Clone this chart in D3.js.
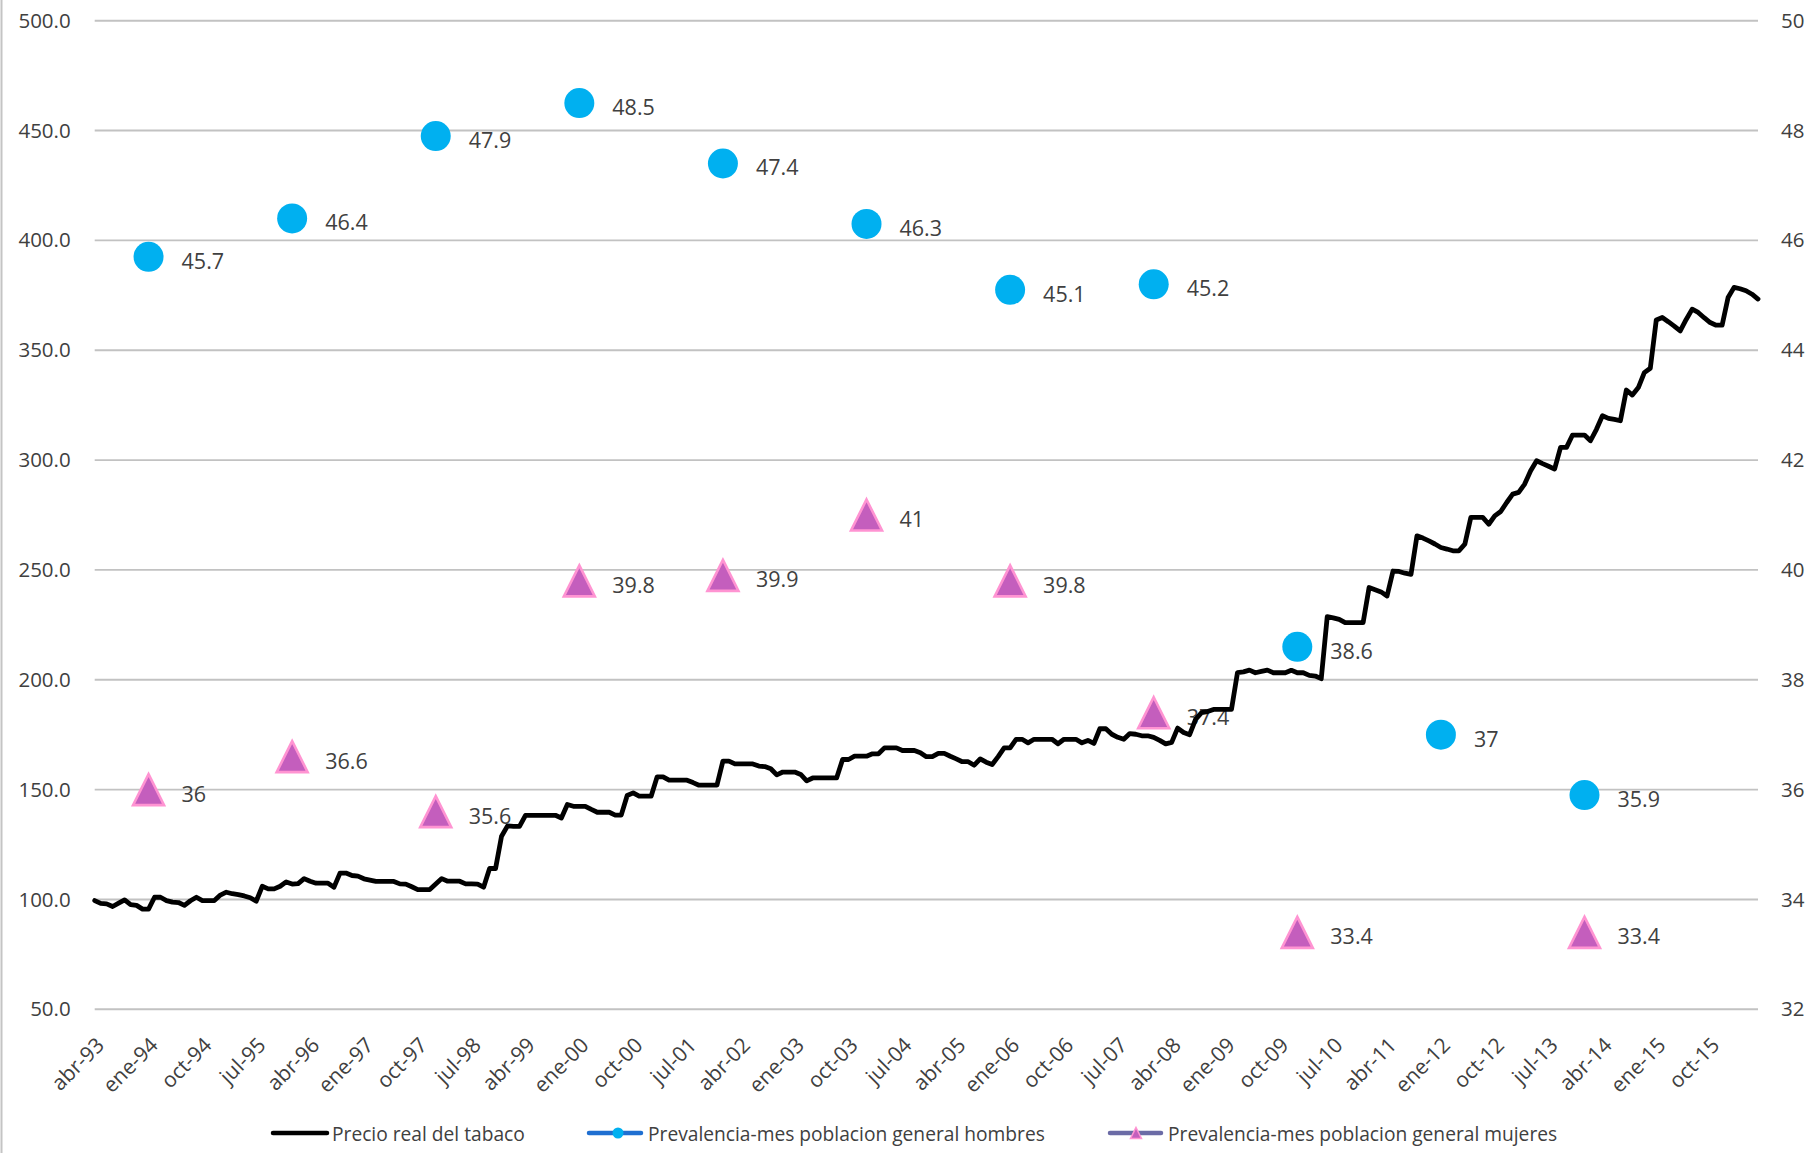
<!DOCTYPE html>
<html>
<head>
<meta charset="utf-8">
<script src="https://cdn.jsdelivr.net/npm/d3@7"></script>
<style>
body { margin: 0; background: #fff; }
svg { display: block; font-family: "Open Sans", sans-serif; }
</style>
</head>
<body>
<svg id="chart"></svg>
<script>
// precio real del tabaco, mensual desde abr-93 (indice 100)
var precio = [
  99.5, 98.2, 98.0, 96.8, 98.3, 99.8, 97.6, 97.3, 95.6, 95.6, 101.0, 101.0,
  99.5, 98.8, 98.6, 97.3, 99.4, 101.0, 99.5, 99.5, 99.5, 102.0, 103.3, 102.6,
  102.2, 101.6, 100.8, 99.2, 106.0, 104.8, 104.8, 106.0, 108.0, 107.0, 107.2, 109.5,
  108.3, 107.4, 107.4, 107.4, 105.6, 112.0, 112.0, 110.9, 110.6, 109.4, 108.8, 108.2,
  108.2, 108.2, 108.2, 107.1, 107.0, 105.8, 104.5, 104.5, 104.5, 107.0, 109.5, 108.3,
  108.3, 108.3, 107.1, 107.1, 107.0, 105.6, 114.1, 114.1, 128.8, 133.5, 133.3, 133.3,
  138.3, 138.3, 138.3, 138.3, 138.3, 138.3, 137.1, 143.2, 142.4, 142.4, 142.4, 141.0,
  139.7, 139.7, 139.7, 138.4, 138.4, 147.3, 148.5, 147.0, 147.0, 147.0, 155.8, 155.8,
  154.3, 154.3, 154.3, 154.3, 153.2, 152.0, 152.0, 152.0, 152.0, 163.0, 163.0, 161.7,
  161.7, 161.7, 161.7, 160.7, 160.5, 159.5, 156.7, 158.0, 158.0, 158.0, 156.9, 154.0,
  155.3, 155.3, 155.3, 155.3, 155.3, 163.7, 163.7, 165.2, 165.2, 165.2, 166.3, 166.3,
  169.0, 169.0, 169.0, 167.8, 167.8, 167.8, 166.8, 165.0, 165.0, 166.5, 166.5, 165.2,
  164.0, 162.7, 162.7, 161.1, 164.0, 162.5, 161.4, 165.0, 169.0, 169.0, 172.9, 172.9,
  171.3, 172.9, 172.9, 172.9, 172.9, 170.9, 172.9, 172.9, 172.9, 171.3, 172.4, 171.0,
  177.7, 177.7, 175.2, 173.8, 172.9, 175.5, 175.2, 174.5, 174.5, 173.8, 172.4, 170.8,
  171.5, 178.0, 176.0, 175.0, 182.0, 185.0, 185.5, 186.5, 186.5, 186.5, 186.5, 203.2,
  203.6, 204.4, 203.2, 203.8, 204.4, 203.2, 203.2, 203.2, 204.3, 203.2, 203.2, 202.0,
  201.7, 200.5, 228.7, 228.2, 227.5, 226.0, 226.0, 226.0, 226.0, 242.0, 241.0, 240.0,
  238.1, 249.5, 249.3, 248.5, 248.0, 265.5, 264.5, 263.2, 261.8, 260.2, 259.5, 258.7,
  258.7, 261.7, 273.9, 273.9, 273.9, 270.8, 274.6, 276.6, 280.7, 284.5, 285.3, 289.1,
  295.1, 299.7, 298.4, 297.2, 295.9, 305.8, 305.8, 311.4, 311.4, 311.4, 308.8, 314.0,
  320.2, 319.0, 318.5, 317.9, 331.9, 329.6, 333.0, 339.8, 341.8, 363.8, 364.9, 363.0,
  361.0, 358.8, 364.0, 368.7, 367.2, 364.8, 362.6, 361.4, 361.4, 374.0, 378.6, 378.0,
  377.1, 375.5, 373.3
];

var mesesNombre = ["ene", "feb", "mar", "abr", "may", "jun", "jul", "ago", "sep", "oct", "nov", "dic"];

// encuestas (prevalencia ultimo mes)
var fechasEncuesta = ["ene-94", "ene-96", "ene-98", "ene-00", "ene-02", "ene-04", "ene-06", "ene-08", "ene-10", "ene-12", "ene-14"];
var hombres = [45.7, 46.4, 47.9, 48.5, 47.4, 46.3, 45.1, 45.2, 38.6, 37, 35.9];
var mujeres = [36, 36.6, 35.6, 39.8, 39.9, 41, 39.8, 37.4, 33.4, null, 33.4];

var ticksIzq = [50, 100, 150, 200, 250, 300, 350, 400, 450, 500];
var ticksDer = [32, 34, 36, 38, 40, 42, 44, 46, 48, 50];
var saltoEtiquetas = 9;

var nombresLeyenda = ["Precio real del tabaco", "Prevalencia-mes poblacion general hombres", "Prevalencia-mes poblacion general mujeres"];

// categorias abr-93 ... (mensuales)
var categorias = precio.map(function(d, i) {
  var m = 3 + i;
  var anio = (93 + Math.floor(m / 12)) % 100;
  return mesesNombre[m % 12] + "-" + String(anio).padStart(2, "0");
});

var width = 1819, height = 1153;
var m = { izq: 94.7, der: 1758, arr: 20.7, aba: 1009.3 };
var gris = "#404040";

var svg = d3.select("#chart").attr("width", width).attr("height", height);
svg.append("rect").attr("width", width).attr("height", height).attr("fill", "#fff");

// borde izquierdo del area del grafico
svg.append("line").attr("x1", 1.5).attr("x2", 1.5).attr("y1", 0).attr("y2", height)
  .attr("stroke", "#c4c4c4").attr("stroke-width", 2);

var x = d3.scalePoint().domain(categorias).range([m.izq, m.der]);
var yIzq = d3.scaleLinear().domain([50, 500]).range([m.aba, m.arr]);
var yDer = d3.scaleLinear().domain([32, 50]).range([m.aba, m.arr]);

// lineas de la cuadricula
svg.append("g").selectAll("line").data(ticksIzq).join("line")
  .attr("x1", m.izq).attr("x2", m.der)
  .attr("y1", d => yIzq(d)).attr("y2", d => yIzq(d))
  .attr("stroke", "#c2c2c2").attr("stroke-width", 1.9);

// eje izquierdo
var ejeIzq = svg.append("g").attr("transform", "translate(" + (m.izq - 24) + ",0)")
  .call(d3.axisLeft(yIzq).tickValues(ticksIzq).tickFormat(d3.format(".1f")).tickSize(0).tickPadding(0));
ejeIzq.select(".domain").remove();
ejeIzq.selectAll("text").attr("font-family", "Open Sans").attr("font-size", 20.5).attr("fill", gris);

// eje derecho
var ejeDer = svg.append("g").attr("transform", "translate(" + (m.der + 23) + ",0)")
  .call(d3.axisRight(yDer).tickValues(ticksDer).tickSize(0).tickPadding(0));
ejeDer.select(".domain").remove();
ejeDer.selectAll("text").attr("font-family", "Open Sans").attr("font-size", 20.5).attr("fill", gris);

// eje x (cada 9 meses)
var ejeX = svg.append("g").attr("transform", "translate(0," + m.aba + ")")
  .call(d3.axisBottom(x).tickValues(categorias.filter((d, i) => i % saltoEtiquetas === 0)).tickSize(0));
ejeX.select(".domain").remove();
ejeX.selectAll("text")
  .attr("font-family", "Open Sans").attr("font-size", 21).attr("fill", gris)
  .attr("text-anchor", "end")
  .attr("x", 0).attr("y", 0).attr("dy", "0.35em")
  .attr("transform", "translate(5,32) rotate(-45)");

// marcadores
var ptsH = fechasEncuesta.map((f, i) => ({ fecha: f, v: hombres[i] })).filter(d => d.v != null);
var ptsM = fechasEncuesta.map((f, i) => ({ fecha: f, v: mujeres[i] })).filter(d => d.v != null);

svg.append("g").selectAll("circle").data(ptsH).join("circle")
  .attr("cx", d => x(d.fecha)).attr("cy", d => yDer(d.v)).attr("r", 15)
  .attr("fill", "#00b0f0");

function triangulo(w, h) {
  return "M0," + (-h / 2) + "L" + (w / 2) + "," + (h / 2) + "L" + (-w / 2) + "," + (h / 2) + "Z";
}
svg.append("g").selectAll("path").data(ptsM).join("path")
  .attr("transform", d => "translate(" + x(d.fecha) + "," + yDer(d.v) + ")")
  .attr("d", triangulo(31, 31))
  .attr("fill", "#c45ebd").attr("stroke", "#ff94d2").attr("stroke-width", 2.6)
  .attr("stroke-linejoin", "miter");

// etiquetas de datos
svg.append("g").selectAll("text").data(ptsH.concat(ptsM)).join("text")
  .attr("x", d => x(d.fecha) + 33).attr("y", d => yDer(d.v) + 3.5)
  .attr("dominant-baseline", "central")
  .attr("font-size", 21.5).attr("fill", gris)
  .text(d => String(d.v));

// linea del precio
var linea = d3.line().x((d, i) => x(categorias[i])).y(d => yIzq(d));
svg.append("path").datum(precio)
  .attr("d", linea).attr("fill", "none")
  .attr("stroke", "#000").attr("stroke-width", 4.8)
  .attr("stroke-linejoin", "round").attr("stroke-linecap", "round");

// leyenda
var ly = 1133;
var ley = svg.append("g").attr("font-size", 19.2).attr("fill", gris);
ley.append("line").attr("x1", 273).attr("x2", 327).attr("y1", ly).attr("y2", ly)
  .attr("stroke", "#000").attr("stroke-width", 4.5).attr("stroke-linecap", "round");
ley.append("text").attr("x", 332).attr("y", ly).attr("dominant-baseline", "central").text(nombresLeyenda[0]);

ley.append("line").attr("x1", 589).attr("x2", 641).attr("y1", ly).attr("y2", ly)
  .attr("stroke", "#1f6fd1").attr("stroke-width", 4.5).attr("stroke-linecap", "round");
ley.append("circle").attr("cx", 618).attr("cy", ly).attr("r", 5.5).attr("fill", "#00b0f0");
ley.append("text").attr("x", 648).attr("y", ly).attr("dominant-baseline", "central").text(nombresLeyenda[1]);

ley.append("line").attr("x1", 1110).attr("x2", 1161).attr("y1", ly).attr("y2", ly)
  .attr("stroke", "#6b6ba6").attr("stroke-width", 4.5).attr("stroke-linecap", "round");
ley.append("path").attr("transform", "translate(1136," + ly + ")").attr("d", triangulo(11, 11))
  .attr("fill", "#c45ebd").attr("stroke", "#ff94d2").attr("stroke-width", 1.5);
ley.append("text").attr("x", 1168).attr("y", ly).attr("dominant-baseline", "central").text(nombresLeyenda[2]);
</script>
</body>
</html>
